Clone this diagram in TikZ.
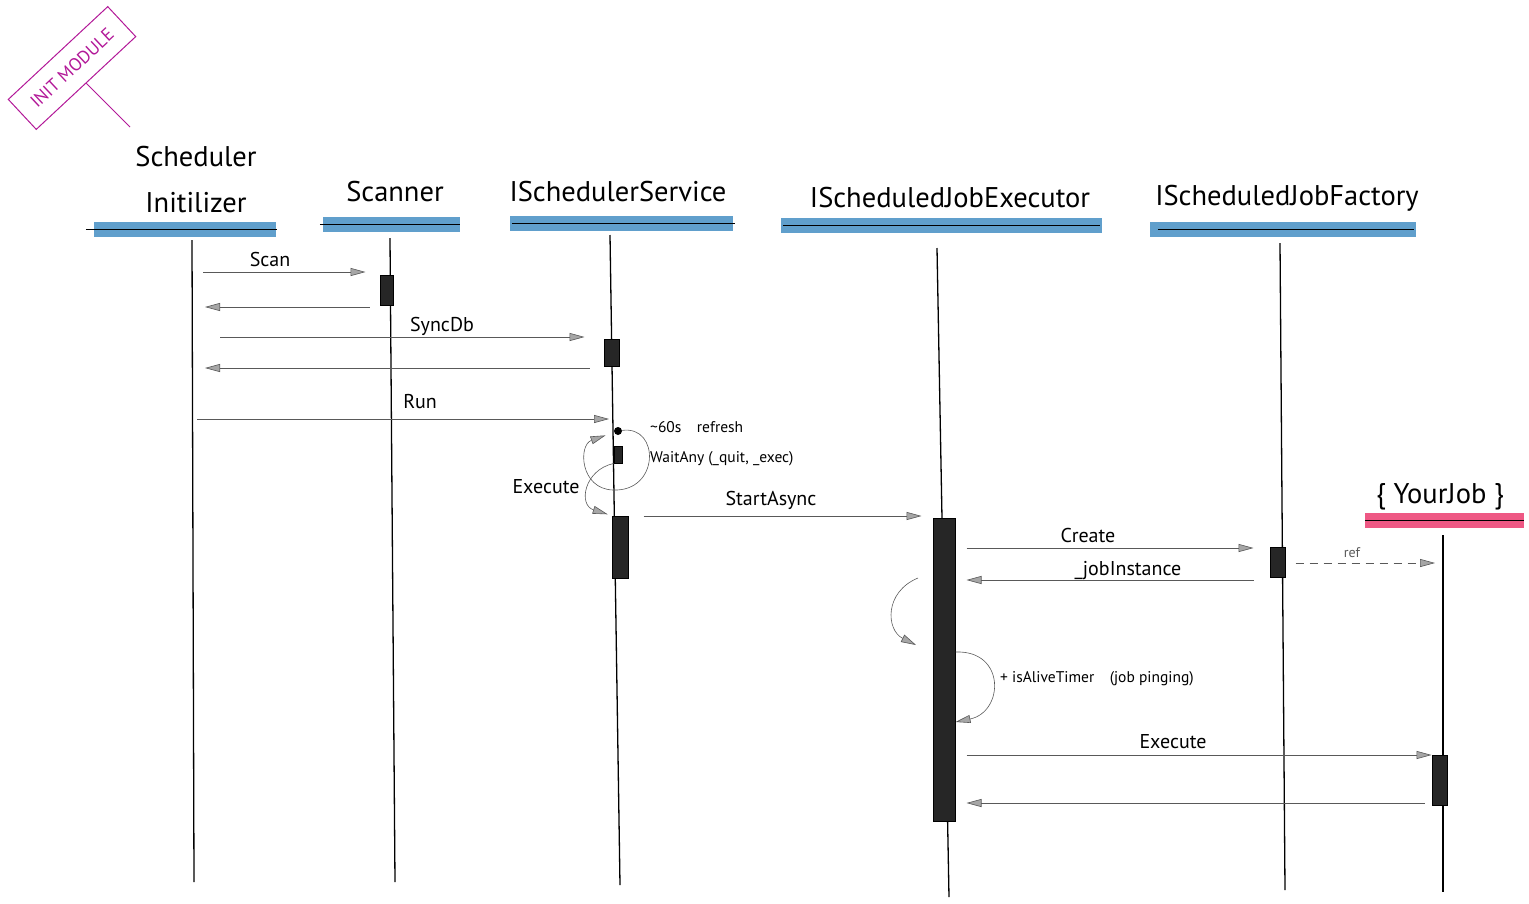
\documentclass[tikz,border=0pt]{standalone}
\usepackage{fontspec}
\setmainfont{PT Sans}
\usetikzlibrary{arrows.meta}

\definecolor{headblue}{RGB}{96,159,204}
\definecolor{jobpink}{RGB}{238,88,132}
\definecolor{stampmag}{RGB}{178,24,152}

\begin{document}
\begin{tikzpicture}[x = 1pt, y = -1pt,
		>={Triangle[length=15pt, width=8pt, fill=black!35]},
		head/.style = {font=\fontsize{28.5}{46}\selectfont, align=center, inner sep=0},
		bar/.style = {fill=headblue, inner sep=0, minimum height=15},
		headline/.style = {line width=1pt},
		life/.style = {line width=1.3pt},
		act/.style = {draw, line width=1pt, fill=black!85, inner sep=0},
		msg/.style = {->, draw=black!65, line width=0.6pt},
		lbl/.style = {font=\fontsize{20}{24}\selectfont, inner sep=0},
		note/.style = {font=\fontsize{15.5}{18}\selectfont, inner sep=0, anchor=west},
		stamp/.style = {draw=stampmag, text=stampmag, line width=1pt, font=\fontsize{18}{20}\selectfont}]
	\useasboundingbox (0,0) rectangle (1529,903);

	% Stamp
	\node[stamp, rotate=43, minimum width=136, minimum height=41] (stamp) at (72,68) {INIT MODULE};
	\coordinate (stamp-tag) at (130,127);
	\draw[stampmag, line width=1pt] (stamp.south) -- (stamp-tag);

	% Header bars
	\node[bar, minimum width=182] (init-bar) at (185,229) {};
	\node[bar, minimum width=137] (scan-bar) at (391.5,224) {};
	\node[bar, minimum width=223] (svc-bar) at (621.5,223) {};
	\node[bar, minimum width=321] (exec-bar) at (941.5,225) {};
	\node[bar, minimum width=266] (fact-bar) at (1283,229.5) {};
	\node[bar, fill=jobpink, minimum width=159] (job-bar) at (1444.5,520) {};
	\draw[headline] ([xshift=-8]init-bar.west) -- ([xshift=1]init-bar.east);
	\draw[headline] ([xshift=-3]scan-bar.west) -- (scan-bar.east);
	\draw[headline] ([xshift=2]svc-bar.west) -- ([xshift=2]svc-bar.east);
	\draw[headline] ([xshift=2]exec-bar.west) -- ([xshift=-2]exec-bar.east);
	\draw[headline] ([xshift=8]fact-bar.west) -- ([xshift=-2]fact-bar.east);
	\draw[headline] (job-bar.west) -- (job-bar.east);

	% Headers
	\node[head] (init) at (196,180) {Scheduler\\Initilizer};
	\node[head] (scan) at (395,192) {Scanner};
	\node[head] (svc) at (618,192) {ISchedulerService};
	\node[head] (exec) at (950,198) {IScheduledJobExecutor};
	\node[head] (fact) at (1287,198) {IScheduledJobFactory};
	\node[head] (job) at (1440,497) {\{ YourJob \}};

	% Lifelines
	\coordinate (init-top) at (192,240);
	\coordinate (init-bot) at (194,882);
	\coordinate (scan-top) at (390,238);
	\coordinate (scan-bot) at (395,882);
	\coordinate (svc-top) at (610,235);
	\coordinate (svc-bot) at (620,885);
	\coordinate (exec-top) at (937,248);
	\coordinate (exec-bot) at (949,897);
	\coordinate (fact-top) at (1280,243);
	\coordinate (fact-bot) at (1285,890);
	\coordinate (job-top) at (1443,535);
	\coordinate (job-bot) at (1443,892);
	\draw[life] (init-top) -- (init-bot);
	\draw[life] (scan-top) -- (scan-bot);
	\draw[life] (svc-top) -- (svc-bot);
	\draw[life] (exec-top) -- (exec-bot);
	\draw[life] (fact-top) -- (fact-bot);
	\draw[life] (job-top) -- (job-bot);

	% Activations
	\node[act, minimum width=13, minimum height=30] (scan-act) at (386.5,290) {};
	\node[act, minimum width=15, minimum height=27] (svc-act1) at (611.5,352.5) {};
	\node[circle, fill=black, inner sep=0, minimum size=8] (svc-dot) at (618,431) {};
	\node[act, minimum width=8, minimum height=17] (svc-wait) at (618,454.5) {};
	\node[act, minimum width=16, minimum height=62] (svc-act2) at (620,547) {};
	\node[act, minimum width=22, minimum height=303] (exec-act) at (944,669.5) {};
	\node[act, minimum width=15, minimum height=30] (fact-act) at (1277.5,562) {};
	\node[act, minimum width=15, minimum height=50] (job-act) at (1439.5,780) {};

	% Messages
	\draw[msg, shorten <=11, shorten >=14] (init-top |- 0,272) -- (scan-act.west |- 0,272);
	\draw[msg, shorten <=10, shorten >=13] (scan-act.west |- 0,307) -- (init-top |- 0,307);
	\draw[msg, shorten <=28, shorten >=19] (init-top |- 0,337) -- (svc-act1.west |- 0,337);
	\draw[msg, shorten <=14, shorten >=13] (svc-act1.west |- 0,368) -- (init-top |- 0,368);
	\draw[msg, shorten <=5, shorten >=9] (init-top |- 0,419) -- (svc-wait.north |- 0,419);
	\draw[msg, shorten >=9] (svc-dot) .. controls (660,425) and (660,492) .. (613,490)
		.. controls (580,489) and (578,445) .. (svc-dot);
	\draw[msg, shorten >=4] (svc-wait.south west) .. controls (584,470) and (578,505) .. (svc-act2.north west);
	\draw[msg, shorten <=15, shorten >=11] (svc-act2.east |- 0,516) -- (exec-act.west |- 0,516);
	\draw[msg, shorten <=11, shorten >=16] (exec-act.east |- 0,548) -- (fact-act.west |- 0,548);
	\draw[msg, shorten <=16, shorten >=11] (fact-act.west |- 0,580) -- (exec-act.east |- 0,580);
	\draw[msg, dashed, dash pattern=on 8pt off 6pt, shorten <=10, shorten >=8] (fact-act.east |- 0,563) -- (job-top |- 0,563);
	\coordinate (exec-loop-a) at (918,578);
	\coordinate (exec-loop-b) at (916,645);
	\draw[msg] (exec-loop-a) .. controls (884,592) and (886,630) .. (exec-loop-b);
	\draw[msg] (exec-act.east |- 0,652) .. controls (1006,650) and (1004,712) .. (exec-act.east |- 0,722);
	\draw[msg, shorten <=11] (exec-act.east |- 0,755) -- (job-act.west |- 0,755);
	\draw[msg, shorten <=7, shorten >=11] (job-act.west |- 0,803) -- (exec-act.east |- 0,803);

	% Labels
	\node[lbl] (scan-lbl) at (270,259) {Scan};
	\node[lbl] (sync-lbl) at (442,326) {SyncDb};
	\node[lbl] (run-lbl) at (420,402) {Run};
	\node[lbl] (exec1-lbl) at (546,487) {Execute};
	\node[lbl] (start-lbl) at (771,500) {StartAsync};
	\node[lbl] (create-lbl) at (1088,535) {Create};
	\node[lbl] (inst-lbl) at (1128,571) {\_jobInstance};
	\node[lbl] (exec2-lbl) at (1173,742) {Execute};
	\node[lbl, font=\fontsize{14}{16}\selectfont, text=black!65] (ref-lbl) at (1352,553) {ref};
	\node[note] (refresh-lbl) at (650,427) {\textasciitilde 60s\quad refresh};
	\node[note] (wait-lbl) at (650,459) {WaitAny (\_quit, \_exec)};
	\node[note] (alive-lbl) at (1000,679) {+ isAliveTimer\quad (job pinging)};
\end{tikzpicture}
\end{document}
